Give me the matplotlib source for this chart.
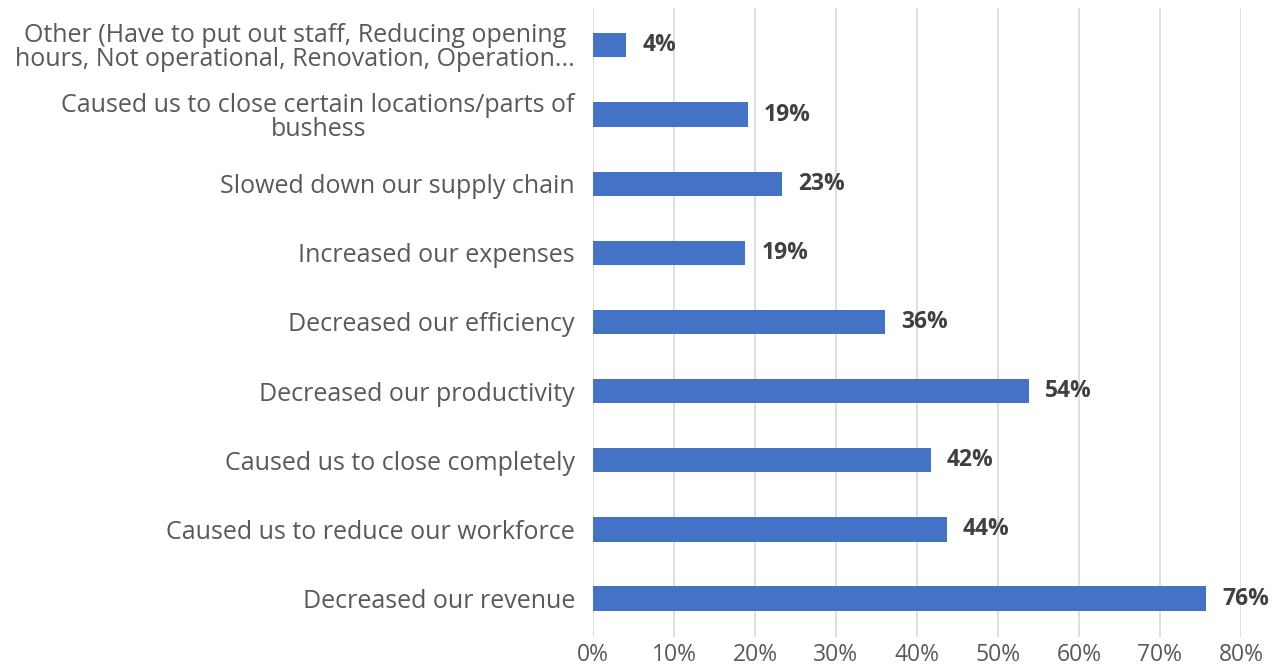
import numpy as np
import matplotlib.pyplot as plt

plt.rcParams['font.family'] = ['Open Sans', 'DejaVu Sans']

# --- Dados (de cima para baixo) ---
categories = [
    "Other (Have to put out staff, Reducing opening\nhours, Not operational, Renovation, Operation...",
    "Caused us to close certain locations/parts of\nbushess",
    "Slowed down our supply chain",
    "Increased our expenses",
    "Decreased our efficiency",
    "Decreased our productivity",
    "Caused us to close completely",
    "Caused us to reduce our workforce",
    "Decreased our revenue",
]
values = [4.1, 19.1, 23.3, 18.8, 36.0, 53.8, 41.7, 43.7, 75.7]
labels = ["4%", "19%", "23%", "19%", "36%", "54%", "42%", "44%", "76%"]
ticks = [0, 10, 20, 30, 40, 50, 60, 70, 80]

fig = plt.figure(figsize=(12.74, 6.68), dpi=100)
ax = fig.add_axes([0.4655, 0.046, 0.5085, 0.942])

y = np.arange(len(categories))[::-1]
ax.barh(y, values, height=0.35, color="#4472C4", zorder=3)

for yi, v, lab in zip(y, values, labels):
    ax.text(v + 2.0, yi, lab, va="center", ha="left", fontsize=16.5,
            fontweight="bold", color="#404040")

ax.set_xlim(0, 80)
ax.set_ylim(-0.56, 8.54)
ax.set_xticks(ticks)
ax.set_xticklabels([f"{t}%" for t in ticks], fontsize=16.5, color="#595959")
ax.set_yticks(y)
ax.set_yticklabels(categories, fontsize=18, color="#595959", ha="right",
                   multialignment="center", linespacing=0.95)
ax.tick_params(axis="both", length=0)
ax.tick_params(axis="y", pad=13)
ax.tick_params(axis="x", pad=4)
ax.grid(axis="x", color="#D9D9D9", linewidth=1.2, zorder=0)
for s in ax.spines.values():
    s.set_visible(False)

fig.savefig("out.png", dpi=100)
